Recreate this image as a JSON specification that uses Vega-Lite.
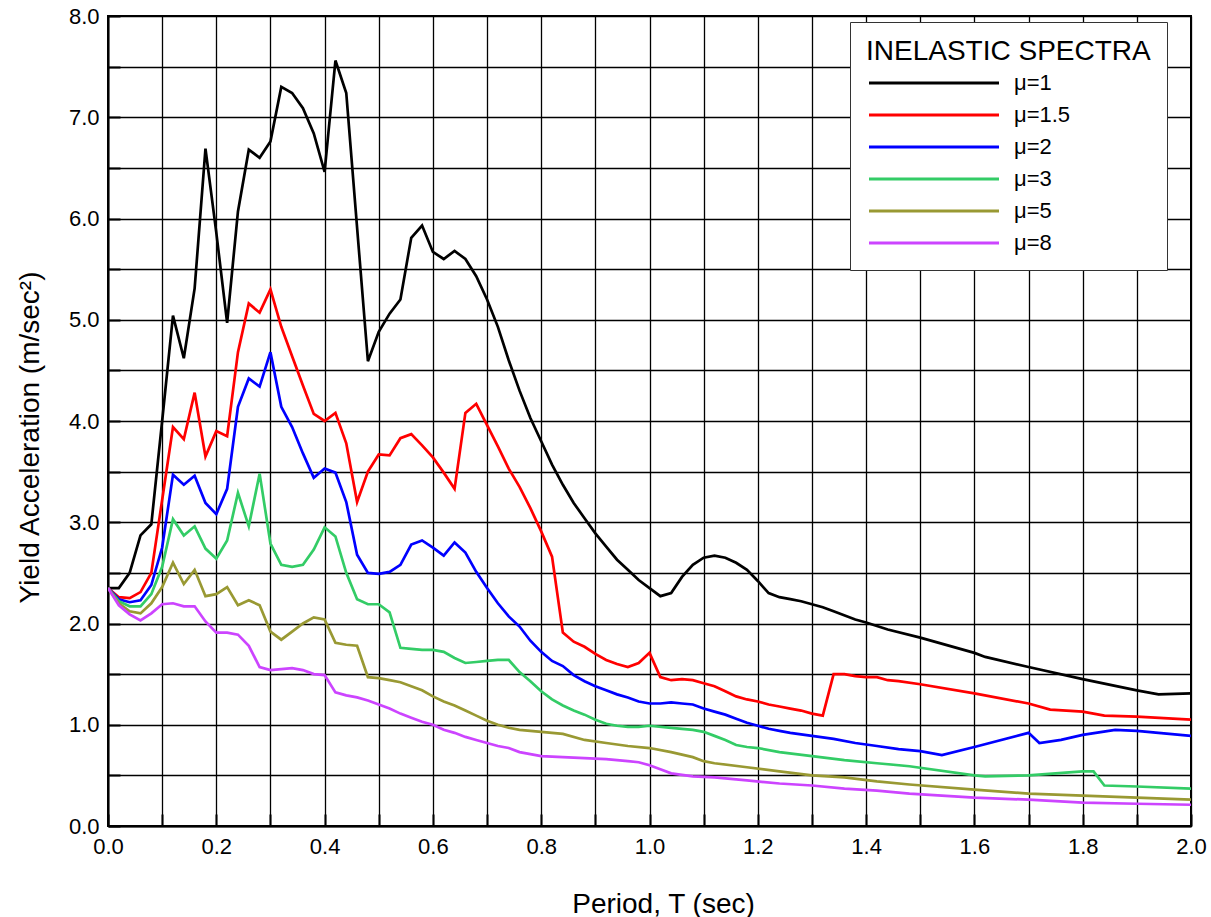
{
"$schema": "https://vega.github.io/schema/vega-lite/v6.json",
"autosize": {"type": "none"},
"width": 1083,
"height": 810,
"padding": {"left": 108, "top": 16, "right": 20, "bottom": 91},
"background": "white",
"config": {
  "font": "Liberation Sans",
  "view": {"stroke": "#000", "strokeWidth": 2},
  "axis": {"labelFont": "Liberation Sans", "titleFont": "Liberation Sans", "labelColor": "#000", "titleColor": "#000", "titleFontWeight": "normal", "gridColor": "#000", "gridWidth": 1.3, "gridOpacity": 1, "tickColor": "#000", "tickWidth": 2, "tickSize": -12, "domainColor": "#000", "domainWidth": 2, "labelOverlap": false, "labelFlush": false}
},
"data": {"values": [
{"T":0.00,"s":"μ=1","a":2.35},{"T":0.02,"s":"μ=1","a":2.35},{"T":0.04,"s":"μ=1","a":2.50},{"T":0.06,"s":"μ=1","a":2.87},{"T":0.08,"s":"μ=1","a":2.98},{"T":0.10,"s":"μ=1","a":4.00},{"T":0.12,"s":"μ=1","a":5.04},{"T":0.14,"s":"μ=1","a":4.62},{"T":0.16,"s":"μ=1","a":5.31},{"T":0.18,"s":"μ=1","a":6.69},{"T":0.20,"s":"μ=1","a":5.86},{"T":0.22,"s":"μ=1","a":4.97},{"T":0.24,"s":"μ=1","a":6.07},{"T":0.26,"s":"μ=1","a":6.68},{"T":0.28,"s":"μ=1","a":6.60},{"T":0.30,"s":"μ=1","a":6.76},{"T":0.32,"s":"μ=1","a":7.30},{"T":0.34,"s":"μ=1","a":7.24},{"T":0.36,"s":"μ=1","a":7.09},{"T":0.38,"s":"μ=1","a":6.84},{"T":0.40,"s":"μ=1","a":6.46},{"T":0.42,"s":"μ=1","a":7.56},{"T":0.44,"s":"μ=1","a":7.24},{"T":0.46,"s":"μ=1","a":5.91},{"T":0.48,"s":"μ=1","a":4.59},{"T":0.50,"s":"μ=1","a":4.88},{"T":0.52,"s":"μ=1","a":5.06},{"T":0.54,"s":"μ=1","a":5.20},{"T":0.56,"s":"μ=1","a":5.81},{"T":0.58,"s":"μ=1","a":5.93},{"T":0.60,"s":"μ=1","a":5.67},{"T":0.62,"s":"μ=1","a":5.60},{"T":0.64,"s":"μ=1","a":5.68},{"T":0.66,"s":"μ=1","a":5.60},{"T":0.68,"s":"μ=1","a":5.43},{"T":0.70,"s":"μ=1","a":5.20},{"T":0.72,"s":"μ=1","a":4.93},{"T":0.74,"s":"μ=1","a":4.60},{"T":0.76,"s":"μ=1","a":4.30},{"T":0.78,"s":"μ=1","a":4.03},{"T":0.80,"s":"μ=1","a":3.80},{"T":0.82,"s":"μ=1","a":3.57},{"T":0.84,"s":"μ=1","a":3.37},{"T":0.86,"s":"μ=1","a":3.19},{"T":0.88,"s":"μ=1","a":3.04},{"T":0.90,"s":"μ=1","a":2.89},{"T":0.92,"s":"μ=1","a":2.76},{"T":0.94,"s":"μ=1","a":2.63},{"T":0.96,"s":"μ=1","a":2.53},{"T":0.98,"s":"μ=1","a":2.43},{"T":1.00,"s":"μ=1","a":2.35},{"T":1.02,"s":"μ=1","a":2.27},{"T":1.04,"s":"μ=1","a":2.30},{"T":1.06,"s":"μ=1","a":2.46},{"T":1.08,"s":"μ=1","a":2.58},{"T":1.10,"s":"μ=1","a":2.65},{"T":1.12,"s":"μ=1","a":2.67},{"T":1.14,"s":"μ=1","a":2.65},{"T":1.16,"s":"μ=1","a":2.60},{"T":1.18,"s":"μ=1","a":2.53},{"T":1.20,"s":"μ=1","a":2.42},{"T":1.22,"s":"μ=1","a":2.30},{"T":1.24,"s":"μ=1","a":2.26},{"T":1.26,"s":"μ=1","a":2.24},{"T":1.28,"s":"μ=1","a":2.22},{"T":1.30,"s":"μ=1","a":2.19},{"T":1.32,"s":"μ=1","a":2.16},{"T":1.34,"s":"μ=1","a":2.12},{"T":1.38,"s":"μ=1","a":2.04},{"T":1.40,"s":"μ=1","a":2.01},{"T":1.44,"s":"μ=1","a":1.94},{"T":1.50,"s":"μ=1","a":1.86},{"T":1.60,"s":"μ=1","a":1.71},{"T":1.62,"s":"μ=1","a":1.67},{"T":1.70,"s":"μ=1","a":1.57},{"T":1.80,"s":"μ=1","a":1.45},{"T":1.90,"s":"μ=1","a":1.34},{"T":1.94,"s":"μ=1","a":1.30},{"T":2.00,"s":"μ=1","a":1.31},
{"T":0.00,"s":"μ=1.5","a":2.35},{"T":0.02,"s":"μ=1.5","a":2.26},{"T":0.04,"s":"μ=1.5","a":2.25},{"T":0.06,"s":"μ=1.5","a":2.31},{"T":0.08,"s":"μ=1.5","a":2.50},{"T":0.10,"s":"μ=1.5","a":3.22},{"T":0.12,"s":"μ=1.5","a":3.94},{"T":0.14,"s":"μ=1.5","a":3.82},{"T":0.16,"s":"μ=1.5","a":4.28},{"T":0.18,"s":"μ=1.5","a":3.65},{"T":0.20,"s":"μ=1.5","a":3.90},{"T":0.22,"s":"μ=1.5","a":3.85},{"T":0.24,"s":"μ=1.5","a":4.68},{"T":0.26,"s":"μ=1.5","a":5.16},{"T":0.28,"s":"μ=1.5","a":5.07},{"T":0.30,"s":"μ=1.5","a":5.30},{"T":0.32,"s":"μ=1.5","a":4.93},{"T":0.34,"s":"μ=1.5","a":4.64},{"T":0.36,"s":"μ=1.5","a":4.35},{"T":0.38,"s":"μ=1.5","a":4.07},{"T":0.40,"s":"μ=1.5","a":4.00},{"T":0.42,"s":"μ=1.5","a":4.08},{"T":0.44,"s":"μ=1.5","a":3.78},{"T":0.46,"s":"μ=1.5","a":3.20},{"T":0.48,"s":"μ=1.5","a":3.50},{"T":0.50,"s":"μ=1.5","a":3.67},{"T":0.52,"s":"μ=1.5","a":3.66},{"T":0.54,"s":"μ=1.5","a":3.83},{"T":0.56,"s":"μ=1.5","a":3.87},{"T":0.58,"s":"μ=1.5","a":3.76},{"T":0.60,"s":"μ=1.5","a":3.64},{"T":0.62,"s":"μ=1.5","a":3.49},{"T":0.64,"s":"μ=1.5","a":3.33},{"T":0.66,"s":"μ=1.5","a":4.08},{"T":0.68,"s":"μ=1.5","a":4.17},{"T":0.70,"s":"μ=1.5","a":3.96},{"T":0.72,"s":"μ=1.5","a":3.75},{"T":0.74,"s":"μ=1.5","a":3.53},{"T":0.76,"s":"μ=1.5","a":3.35},{"T":0.78,"s":"μ=1.5","a":3.14},{"T":0.80,"s":"μ=1.5","a":2.91},{"T":0.82,"s":"μ=1.5","a":2.66},{"T":0.84,"s":"μ=1.5","a":1.91},{"T":0.86,"s":"μ=1.5","a":1.82},{"T":0.88,"s":"μ=1.5","a":1.77},{"T":0.90,"s":"μ=1.5","a":1.70},{"T":0.92,"s":"μ=1.5","a":1.64},{"T":0.94,"s":"μ=1.5","a":1.60},{"T":0.96,"s":"μ=1.5","a":1.57},{"T":0.98,"s":"μ=1.5","a":1.61},{"T":1.00,"s":"μ=1.5","a":1.71},{"T":1.02,"s":"μ=1.5","a":1.47},{"T":1.04,"s":"μ=1.5","a":1.44},{"T":1.06,"s":"μ=1.5","a":1.45},{"T":1.08,"s":"μ=1.5","a":1.44},{"T":1.10,"s":"μ=1.5","a":1.41},{"T":1.12,"s":"μ=1.5","a":1.38},{"T":1.14,"s":"μ=1.5","a":1.33},{"T":1.16,"s":"μ=1.5","a":1.28},{"T":1.18,"s":"μ=1.5","a":1.25},{"T":1.20,"s":"μ=1.5","a":1.23},{"T":1.22,"s":"μ=1.5","a":1.20},{"T":1.24,"s":"μ=1.5","a":1.18},{"T":1.26,"s":"μ=1.5","a":1.16},{"T":1.28,"s":"μ=1.5","a":1.14},{"T":1.30,"s":"μ=1.5","a":1.11},{"T":1.32,"s":"μ=1.5","a":1.09},{"T":1.34,"s":"μ=1.5","a":1.50},{"T":1.36,"s":"μ=1.5","a":1.50},{"T":1.38,"s":"μ=1.5","a":1.48},{"T":1.40,"s":"μ=1.5","a":1.47},{"T":1.42,"s":"μ=1.5","a":1.47},{"T":1.44,"s":"μ=1.5","a":1.44},{"T":1.46,"s":"μ=1.5","a":1.43},{"T":1.50,"s":"μ=1.5","a":1.40},{"T":1.60,"s":"μ=1.5","a":1.31},{"T":1.70,"s":"μ=1.5","a":1.21},{"T":1.74,"s":"μ=1.5","a":1.15},{"T":1.80,"s":"μ=1.5","a":1.13},{"T":1.84,"s":"μ=1.5","a":1.09},{"T":1.90,"s":"μ=1.5","a":1.08},{"T":2.00,"s":"μ=1.5","a":1.05},
{"T":0.00,"s":"μ=2","a":2.35},{"T":0.02,"s":"μ=2","a":2.24},{"T":0.04,"s":"μ=2","a":2.21},{"T":0.06,"s":"μ=2","a":2.23},{"T":0.08,"s":"μ=2","a":2.38},{"T":0.10,"s":"μ=2","a":2.75},{"T":0.12,"s":"μ=2","a":3.47},{"T":0.14,"s":"μ=2","a":3.37},{"T":0.16,"s":"μ=2","a":3.46},{"T":0.18,"s":"μ=2","a":3.19},{"T":0.20,"s":"μ=2","a":3.08},{"T":0.22,"s":"μ=2","a":3.33},{"T":0.24,"s":"μ=2","a":4.14},{"T":0.26,"s":"μ=2","a":4.42},{"T":0.28,"s":"μ=2","a":4.34},{"T":0.30,"s":"μ=2","a":4.68},{"T":0.32,"s":"μ=2","a":4.14},{"T":0.34,"s":"μ=2","a":3.94},{"T":0.36,"s":"μ=2","a":3.68},{"T":0.38,"s":"μ=2","a":3.44},{"T":0.40,"s":"μ=2","a":3.53},{"T":0.42,"s":"μ=2","a":3.49},{"T":0.44,"s":"μ=2","a":3.20},{"T":0.46,"s":"μ=2","a":2.68},{"T":0.48,"s":"μ=2","a":2.50},{"T":0.50,"s":"μ=2","a":2.49},{"T":0.52,"s":"μ=2","a":2.51},{"T":0.54,"s":"μ=2","a":2.58},{"T":0.56,"s":"μ=2","a":2.78},{"T":0.58,"s":"μ=2","a":2.82},{"T":0.60,"s":"μ=2","a":2.75},{"T":0.62,"s":"μ=2","a":2.67},{"T":0.64,"s":"μ=2","a":2.80},{"T":0.66,"s":"μ=2","a":2.70},{"T":0.68,"s":"μ=2","a":2.51},{"T":0.70,"s":"μ=2","a":2.35},{"T":0.72,"s":"μ=2","a":2.20},{"T":0.74,"s":"μ=2","a":2.07},{"T":0.76,"s":"μ=2","a":1.97},{"T":0.78,"s":"μ=2","a":1.83},{"T":0.80,"s":"μ=2","a":1.72},{"T":0.82,"s":"μ=2","a":1.63},{"T":0.84,"s":"μ=2","a":1.58},{"T":0.86,"s":"μ=2","a":1.49},{"T":0.88,"s":"μ=2","a":1.43},{"T":0.90,"s":"μ=2","a":1.38},{"T":0.92,"s":"μ=2","a":1.34},{"T":0.94,"s":"μ=2","a":1.30},{"T":0.96,"s":"μ=2","a":1.27},{"T":0.98,"s":"μ=2","a":1.23},{"T":1.00,"s":"μ=2","a":1.21},{"T":1.02,"s":"μ=2","a":1.21},{"T":1.04,"s":"μ=2","a":1.22},{"T":1.06,"s":"μ=2","a":1.21},{"T":1.08,"s":"μ=2","a":1.20},{"T":1.10,"s":"μ=2","a":1.16},{"T":1.12,"s":"μ=2","a":1.13},{"T":1.14,"s":"μ=2","a":1.10},{"T":1.16,"s":"μ=2","a":1.06},{"T":1.18,"s":"μ=2","a":1.02},{"T":1.20,"s":"μ=2","a":0.99},{"T":1.22,"s":"μ=2","a":0.96},{"T":1.24,"s":"μ=2","a":0.94},{"T":1.26,"s":"μ=2","a":0.92},{"T":1.30,"s":"μ=2","a":0.89},{"T":1.34,"s":"μ=2","a":0.86},{"T":1.38,"s":"μ=2","a":0.82},{"T":1.42,"s":"μ=2","a":0.79},{"T":1.46,"s":"μ=2","a":0.76},{"T":1.50,"s":"μ=2","a":0.74},{"T":1.54,"s":"μ=2","a":0.70},{"T":1.60,"s":"μ=2","a":0.78},{"T":1.70,"s":"μ=2","a":0.92},{"T":1.72,"s":"μ=2","a":0.82},{"T":1.76,"s":"μ=2","a":0.85},{"T":1.80,"s":"μ=2","a":0.90},{"T":1.86,"s":"μ=2","a":0.95},{"T":1.90,"s":"μ=2","a":0.94},{"T":2.00,"s":"μ=2","a":0.89},
{"T":0.00,"s":"μ=3","a":2.35},{"T":0.02,"s":"μ=3","a":2.22},{"T":0.04,"s":"μ=3","a":2.17},{"T":0.06,"s":"μ=3","a":2.17},{"T":0.08,"s":"μ=3","a":2.29},{"T":0.10,"s":"μ=3","a":2.56},{"T":0.12,"s":"μ=3","a":3.03},{"T":0.14,"s":"μ=3","a":2.87},{"T":0.16,"s":"μ=3","a":2.96},{"T":0.18,"s":"μ=3","a":2.74},{"T":0.20,"s":"μ=3","a":2.64},{"T":0.22,"s":"μ=3","a":2.82},{"T":0.24,"s":"μ=3","a":3.29},{"T":0.26,"s":"μ=3","a":2.96},{"T":0.28,"s":"μ=3","a":3.48},{"T":0.30,"s":"μ=3","a":2.79},{"T":0.32,"s":"μ=3","a":2.58},{"T":0.34,"s":"μ=3","a":2.56},{"T":0.36,"s":"μ=3","a":2.58},{"T":0.38,"s":"μ=3","a":2.73},{"T":0.40,"s":"μ=3","a":2.95},{"T":0.42,"s":"μ=3","a":2.86},{"T":0.44,"s":"μ=3","a":2.50},{"T":0.46,"s":"μ=3","a":2.24},{"T":0.48,"s":"μ=3","a":2.19},{"T":0.50,"s":"μ=3","a":2.19},{"T":0.52,"s":"μ=3","a":2.11},{"T":0.54,"s":"μ=3","a":1.76},{"T":0.56,"s":"μ=3","a":1.75},{"T":0.58,"s":"μ=3","a":1.74},{"T":0.60,"s":"μ=3","a":1.74},{"T":0.62,"s":"μ=3","a":1.72},{"T":0.64,"s":"μ=3","a":1.66},{"T":0.66,"s":"μ=3","a":1.61},{"T":0.68,"s":"μ=3","a":1.62},{"T":0.70,"s":"μ=3","a":1.63},{"T":0.72,"s":"μ=3","a":1.64},{"T":0.74,"s":"μ=3","a":1.64},{"T":0.76,"s":"μ=3","a":1.52},{"T":0.78,"s":"μ=3","a":1.43},{"T":0.80,"s":"μ=3","a":1.33},{"T":0.82,"s":"μ=3","a":1.25},{"T":0.84,"s":"μ=3","a":1.19},{"T":0.86,"s":"μ=3","a":1.14},{"T":0.88,"s":"μ=3","a":1.10},{"T":0.90,"s":"μ=3","a":1.05},{"T":0.92,"s":"μ=3","a":1.01},{"T":0.94,"s":"μ=3","a":0.99},{"T":0.96,"s":"μ=3","a":0.98},{"T":0.98,"s":"μ=3","a":0.98},{"T":1.00,"s":"μ=3","a":0.99},{"T":1.04,"s":"μ=3","a":0.97},{"T":1.08,"s":"μ=3","a":0.95},{"T":1.10,"s":"μ=3","a":0.93},{"T":1.12,"s":"μ=3","a":0.89},{"T":1.14,"s":"μ=3","a":0.85},{"T":1.16,"s":"μ=3","a":0.80},{"T":1.18,"s":"μ=3","a":0.78},{"T":1.20,"s":"μ=3","a":0.77},{"T":1.24,"s":"μ=3","a":0.73},{"T":1.30,"s":"μ=3","a":0.69},{"T":1.36,"s":"μ=3","a":0.65},{"T":1.42,"s":"μ=3","a":0.62},{"T":1.48,"s":"μ=3","a":0.59},{"T":1.60,"s":"μ=3","a":0.50},{"T":1.62,"s":"μ=3","a":0.49},{"T":1.70,"s":"μ=3","a":0.50},{"T":1.80,"s":"μ=3","a":0.54},{"T":1.82,"s":"μ=3","a":0.54},{"T":1.84,"s":"μ=3","a":0.40},{"T":1.90,"s":"μ=3","a":0.39},{"T":2.00,"s":"μ=3","a":0.37},
{"T":0.00,"s":"μ=5","a":2.35},{"T":0.02,"s":"μ=5","a":2.20},{"T":0.04,"s":"μ=5","a":2.12},{"T":0.06,"s":"μ=5","a":2.10},{"T":0.08,"s":"μ=5","a":2.20},{"T":0.10,"s":"μ=5","a":2.36},{"T":0.12,"s":"μ=5","a":2.60},{"T":0.14,"s":"μ=5","a":2.39},{"T":0.16,"s":"μ=5","a":2.53},{"T":0.18,"s":"μ=5","a":2.27},{"T":0.20,"s":"μ=5","a":2.29},{"T":0.22,"s":"μ=5","a":2.36},{"T":0.24,"s":"μ=5","a":2.18},{"T":0.26,"s":"μ=5","a":2.23},{"T":0.28,"s":"μ=5","a":2.18},{"T":0.30,"s":"μ=5","a":1.92},{"T":0.32,"s":"μ=5","a":1.84},{"T":0.34,"s":"μ=5","a":1.92},{"T":0.36,"s":"μ=5","a":2.00},{"T":0.38,"s":"μ=5","a":2.06},{"T":0.40,"s":"μ=5","a":2.04},{"T":0.42,"s":"μ=5","a":1.81},{"T":0.44,"s":"μ=5","a":1.79},{"T":0.46,"s":"μ=5","a":1.78},{"T":0.48,"s":"μ=5","a":1.47},{"T":0.50,"s":"μ=5","a":1.46},{"T":0.52,"s":"μ=5","a":1.44},{"T":0.54,"s":"μ=5","a":1.42},{"T":0.56,"s":"μ=5","a":1.38},{"T":0.58,"s":"μ=5","a":1.34},{"T":0.60,"s":"μ=5","a":1.28},{"T":0.62,"s":"μ=5","a":1.23},{"T":0.64,"s":"μ=5","a":1.19},{"T":0.66,"s":"μ=5","a":1.14},{"T":0.68,"s":"μ=5","a":1.09},{"T":0.70,"s":"μ=5","a":1.04},{"T":0.72,"s":"μ=5","a":1.00},{"T":0.74,"s":"μ=5","a":0.97},{"T":0.76,"s":"μ=5","a":0.95},{"T":0.80,"s":"μ=5","a":0.93},{"T":0.84,"s":"μ=5","a":0.91},{"T":0.88,"s":"μ=5","a":0.85},{"T":0.92,"s":"μ=5","a":0.82},{"T":0.96,"s":"μ=5","a":0.79},{"T":1.00,"s":"μ=5","a":0.77},{"T":1.04,"s":"μ=5","a":0.73},{"T":1.08,"s":"μ=5","a":0.68},{"T":1.10,"s":"μ=5","a":0.64},{"T":1.12,"s":"μ=5","a":0.62},{"T":1.18,"s":"μ=5","a":0.58},{"T":1.24,"s":"μ=5","a":0.54},{"T":1.30,"s":"μ=5","a":0.50},{"T":1.36,"s":"μ=5","a":0.48},{"T":1.42,"s":"μ=5","a":0.44},{"T":1.48,"s":"μ=5","a":0.41},{"T":1.60,"s":"μ=5","a":0.36},{"T":1.70,"s":"μ=5","a":0.32},{"T":1.80,"s":"μ=5","a":0.30},{"T":1.90,"s":"μ=5","a":0.28},{"T":2.00,"s":"μ=5","a":0.26},
{"T":0.00,"s":"μ=8","a":2.35},{"T":0.02,"s":"μ=8","a":2.18},{"T":0.04,"s":"μ=8","a":2.09},{"T":0.06,"s":"μ=8","a":2.03},{"T":0.08,"s":"μ=8","a":2.10},{"T":0.10,"s":"μ=8","a":2.19},{"T":0.12,"s":"μ=8","a":2.20},{"T":0.14,"s":"μ=8","a":2.17},{"T":0.16,"s":"μ=8","a":2.17},{"T":0.18,"s":"μ=8","a":2.02},{"T":0.20,"s":"μ=8","a":1.91},{"T":0.22,"s":"μ=8","a":1.91},{"T":0.24,"s":"μ=8","a":1.89},{"T":0.26,"s":"μ=8","a":1.78},{"T":0.28,"s":"μ=8","a":1.57},{"T":0.30,"s":"μ=8","a":1.54},{"T":0.32,"s":"μ=8","a":1.55},{"T":0.34,"s":"μ=8","a":1.56},{"T":0.36,"s":"μ=8","a":1.54},{"T":0.38,"s":"μ=8","a":1.50},{"T":0.40,"s":"μ=8","a":1.49},{"T":0.42,"s":"μ=8","a":1.32},{"T":0.44,"s":"μ=8","a":1.29},{"T":0.46,"s":"μ=8","a":1.27},{"T":0.48,"s":"μ=8","a":1.24},{"T":0.50,"s":"μ=8","a":1.20},{"T":0.52,"s":"μ=8","a":1.16},{"T":0.54,"s":"μ=8","a":1.11},{"T":0.56,"s":"μ=8","a":1.07},{"T":0.58,"s":"μ=8","a":1.03},{"T":0.60,"s":"μ=8","a":1.00},{"T":0.62,"s":"μ=8","a":0.95},{"T":0.64,"s":"μ=8","a":0.92},{"T":0.66,"s":"μ=8","a":0.88},{"T":0.68,"s":"μ=8","a":0.85},{"T":0.70,"s":"μ=8","a":0.82},{"T":0.72,"s":"μ=8","a":0.79},{"T":0.74,"s":"μ=8","a":0.77},{"T":0.76,"s":"μ=8","a":0.73},{"T":0.80,"s":"μ=8","a":0.69},{"T":0.84,"s":"μ=8","a":0.68},{"T":0.88,"s":"μ=8","a":0.67},{"T":0.92,"s":"μ=8","a":0.66},{"T":0.96,"s":"μ=8","a":0.64},{"T":0.98,"s":"μ=8","a":0.63},{"T":1.00,"s":"μ=8","a":0.60},{"T":1.02,"s":"μ=8","a":0.56},{"T":1.04,"s":"μ=8","a":0.52},{"T":1.08,"s":"μ=8","a":0.49},{"T":1.12,"s":"μ=8","a":0.48},{"T":1.18,"s":"μ=8","a":0.45},{"T":1.24,"s":"μ=8","a":0.42},{"T":1.30,"s":"μ=8","a":0.40},{"T":1.36,"s":"μ=8","a":0.37},{"T":1.42,"s":"μ=8","a":0.35},{"T":1.48,"s":"μ=8","a":0.32},{"T":1.60,"s":"μ=8","a":0.28},{"T":1.70,"s":"μ=8","a":0.26},{"T":1.80,"s":"μ=8","a":0.23},{"T":1.90,"s":"μ=8","a":0.22},{"T":2.00,"s":"μ=8","a":0.21}
]},
"mark": {"type": "line", "strokeWidth": 2.7, "clip": true},
"encoding": {
  "x": {"field": "T", "type": "quantitative", "scale": {"domain": [0, 2], "nice": false, "zero": false},
        "axis": {"title": "Period, T (sec)", "titleFontSize": 28, "titleX": 555, "titleY": 86, "titleBaseline": "alphabetic",
                 "values": [0,0.1,0.2,0.3,0.4,0.5,0.6,0.7,0.8,0.9,1.0,1.1,1.2,1.3,1.4,1.5,1.6,1.7,1.8,1.9,2.0],
                 "labelExpr": "round(datum.value*10) % 2 == 0 ? format(datum.value, '.1f') : ''",
                 "labelFontSize": 22, "labelPadding": 22}},
  "y": {"field": "a", "type": "quantitative", "scale": {"domain": [0, 8], "nice": false},
        "axis": {"title": "Yield Acceleration (m/sec²)", "titleFontSize": 28, "titleX": -70, "titleY": 421, "titleBaseline": "alphabetic",
                 "values": [0,0.5,1,1.5,2,2.5,3,3.5,4,4.5,5,5.5,6,6.5,7,7.5,8],
                 "labelExpr": "datum.value % 1 == 0 ? format(datum.value, '.1f') : ''",
                 "labelFontSize": 22, "labelPadding": 21}},
  "color": {"field": "s", "type": "nominal",
            "scale": {"domain": ["μ=1","μ=1.5","μ=2","μ=3","μ=5","μ=8"], "range": ["#000000","#ff0000","#0000ff","#33cc66","#999933","#cc44ff"]},
            "legend": {"title": "INELASTIC SPECTRA", "orient": "none", "legendX": 742, "legendY": 6,
                       "symbolType": "M-10,0H10", "symbolSize": 169, "symbolStrokeWidth": 3, "symbolOffset": 57, "labelOffset": 69,
                       "labelFontSize": 22, "labelFont": "Liberation Sans", "labelColor": "#000",
                       "titleFontSize": 28, "titleFont": "Liberation Sans", "titleFontWeight": "normal", "titleColor": "#000", "titleLimit": 500,
                       "titleAnchor": "start", "titlePadding": 6, "padding": 16, "rowPadding": 10,
                       "strokeColor": "#333", "fillColor": "white"}}
}
}
